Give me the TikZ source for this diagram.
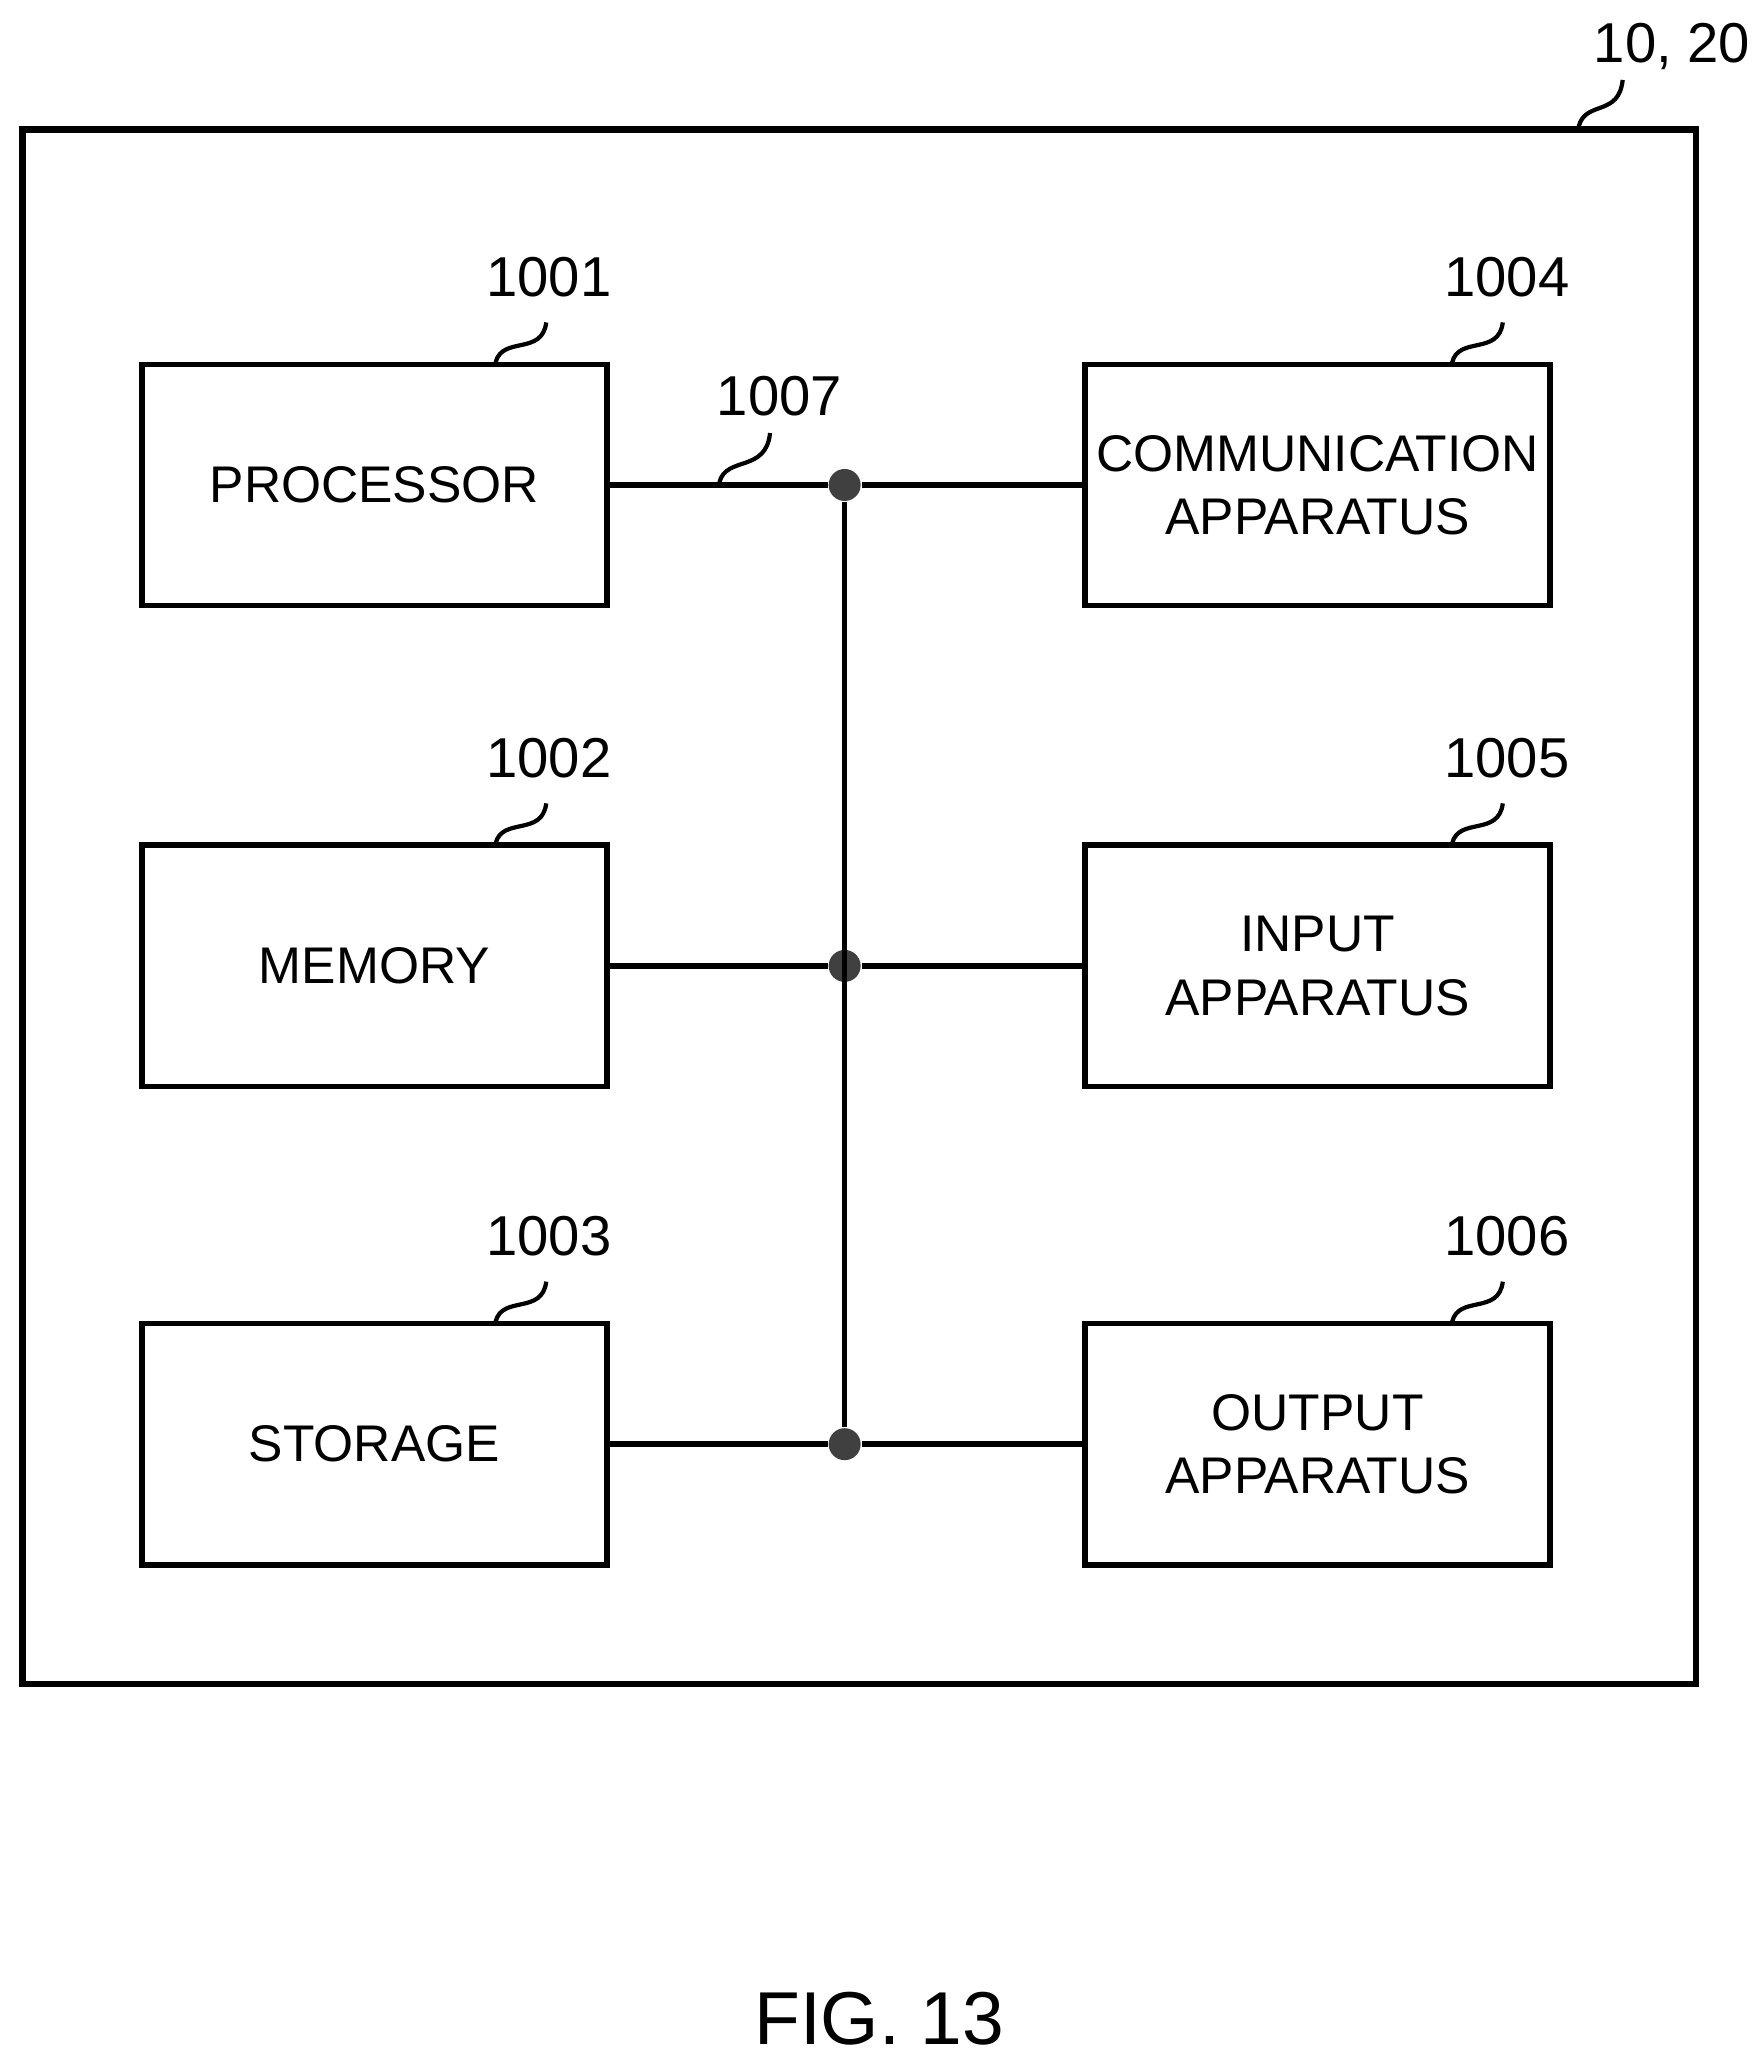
\documentclass[tikz,border=0pt]{standalone}
\usepackage{fontspec}
\setmainfont{Liberation Sans}
\usetikzlibrary{positioning}

\tikzset{
  unit/.style={draw,line width=1.2pt,minimum width=3.49cm,minimum height=1.81cm,
    inner sep=1pt,align=center,font=\fontsize{11}{13.5}\selectfont},
  bus/.style={line width=1.2pt},
  tap/.style={circle,fill=black!75,inner sep=0pt,minimum size=0.24cm},
  ref/.style={font=\fontsize{12}{14}\selectfont},
  squig/.style={line width=0.9pt}
}

\begin{document}
\begin{tikzpicture}[x=0.01cm,y=-0.01cm]
  \useasboundingbox (0,0) rectangle (1320,1550);
  \draw[line width=1.4pt] (17,97) rectangle (1273,1264);

  \node[unit] (proc) at (281,364) {PROCESSOR};
  \node[unit] (mem)  at (281,725) {MEMORY};
  \node[unit] (stor) at (281,1084) {STORAGE};
  \node[unit] (comm) at (989,364) {COMMUNICATION\\APPARATUS};
  \node[unit] (inp)  at (989,725) {INPUT\\APPARATUS};
  \node[unit] (outp) at (989,1084) {OUTPUT\\APPARATUS};

  \node[tap] (j1) at (634,364) {};
  \node[tap] (j2) at (634,725) {};
  \node[tap] (j3) at (634,1084) {};

  \draw[bus] (proc) -- (j1) -- (comm);
  \draw[bus] (mem) -- (j2) -- (inp);
  \draw[bus] (stor) -- (j3) -- (outp);
  \draw[bus] (j1) -- (j3);

  % reference numerals
  \node[ref] (l1) at (412,208) {1001};
  \node[ref] (l2) at (412,569) {1002};
  \node[ref] (l3) at (412,928) {1003};
  \node[ref] (l4) at (1131,208) {1004};
  \node[ref] (l5) at (1131,569) {1005};
  \node[ref] (l6) at (1131,928) {1006};
  \node[ref] (l7) at (585,297) {1007};
  \node[ref] (l0) at (1255,35) {10, 20};

  \foreach \x/\y in {372/272, 372/633, 372/992, 1090/272, 1090/633, 1090/992}
    \draw[squig] (\x,\y) .. controls (\x+5,\y-20) and (\x+35,\y-5) .. (\x+38,\y-30);
  \draw[squig] (540,362) .. controls (545,342) and (575,355) .. (578,325);
  \draw[squig] (1185,95) .. controls (1190,75) and (1215,88) .. (1218,60);

  \node[font=\fontsize{16}{19}\selectfont] (fig) at (660,1515) {FIG. 13};
\end{tikzpicture}
\end{document}
